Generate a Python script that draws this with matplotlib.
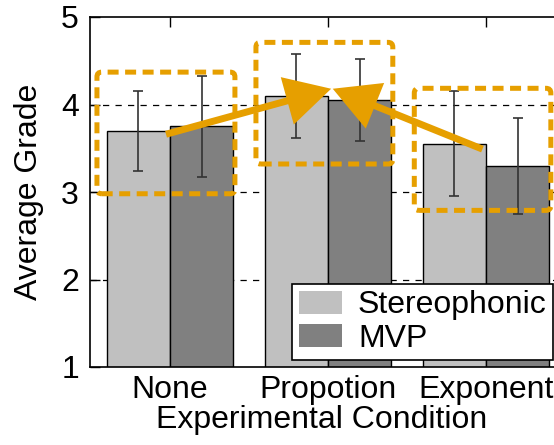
import matplotlib
matplotlib.use("Agg")
import matplotlib.pyplot as plt
import numpy as np
from matplotlib.patches import FancyBboxPatch, FancyArrowPatch

plt.rcParams['font.family'] = ['Liberation Sans', 'DejaVu Sans']

categories = ["None", "Propotion", "Exponent"]
series_names = ["Stereophonic", "MVP"]
stereo_mean = [3.70, 4.10, 3.55]
stereo_err = [0.46, 0.48, 0.60]
mvp_mean = [3.75, 4.05, 3.30]
mvp_err = [0.58, 0.47, 0.55]
yticks = [1, 2, 3, 4, 5]
grid_levels = [2, 3, 4]

# highlight boxes: (x0, x1, y0, y1) in data units
boxes = [(-0.462, 0.411, 2.98, 4.37),
         (0.544, 1.41, 3.32, 4.71),
         (1.546, 2.41, 2.79, 4.185)]
# arrows: (x_start, y_start, x_end, y_end)
arrows = [(-0.025, 3.66, 1.02, 4.18),
          (1.977, 3.49, 1.03, 4.18)]

orange = "#E69F00"
FS = 23

fig = plt.figure(figsize=(5.54, 4.45), dpi=100)
ax = fig.add_axes([90/554, 78/445, 1 - 90/554, 350/445])

x = np.arange(len(categories))
w = 0.4
for lv in grid_levels:
    ax.axhline(lv, color='black', lw=0.9, ls=(0, (5, 5)), zorder=0.5)

ax.bar(x - w/2, stereo_mean, w, color='#C0C0C0', edgecolor='black', lw=1,
       label=series_names[0], zorder=1)
ax.bar(x + w/2, mvp_mean, w, color='#808080', edgecolor='black', lw=1,
       label=series_names[1], zorder=1)
ax.errorbar(x - w/2, stereo_mean, yerr=stereo_err, fmt='none', ecolor='#333333',
            elinewidth=1.2, capsize=3.6, capthick=1.2, zorder=2)
ax.errorbar(x + w/2, mvp_mean, yerr=mvp_err, fmt='none', ecolor='#333333',
            elinewidth=1.2, capsize=3.6, capthick=1.2, zorder=2)

aspect = 158 / 87.5
for (x0, x1, y0, y1) in boxes:
    p = FancyBboxPatch((x0, y0), x1 - x0, y1 - y0,
                       boxstyle="round,pad=0,rounding_size=0.03",
                       mutation_aspect=aspect, fill=False, edgecolor=orange,
                       lw=3.6, ls=(0, (2.2, 1.3)), zorder=3)
    ax.add_patch(p)

for (xs, ys, xe, ye) in arrows:
    a = FancyArrowPatch((xs, ys), (xe, ye),
                        arrowstyle='-|>,head_length=2.5,head_width=1.35',
                        mutation_scale=10, lw=5, color=orange,
                        shrinkA=0, shrinkB=0, capstyle='butt', joinstyle='miter',
                        zorder=4)
    ax.add_patch(a)

ax.set_xlim(-0.506, 2.43)
ax.set_ylim(1, 5)
ax.set_yticks(yticks)
ax.set_xticks(x)
ax.set_xticklabels(categories)
ax.tick_params(axis='both', labelsize=FS, direction='in', length=7, width=1)
ax.tick_params(axis='x', top=True, bottom=False, pad=6)
ax.tick_params(axis='y', pad=8)
for s in ax.spines.values():
    s.set_linewidth(1.2)
ax.spines['right'].set_visible(False)

ax.set_xlabel("Experimental Condition", fontsize=FS, labelpad=0)
ax.set_ylabel("Average Grade", fontsize=FS, labelpad=12)

leg = ax.legend(loc='lower right', bbox_to_anchor=(0.998, 0.02), fontsize=FS,
                frameon=True, fancybox=False, edgecolor='black', framealpha=1,
                handlelength=1.35, handleheight=0.75, handletextpad=0.5,
                borderpad=0.2, labelspacing=0.1, borderaxespad=0)
leg.get_frame().set_linewidth(1.2)
for h in leg.legend_handles:
    h.set_edgecolor('none')
leg.set_zorder(10)

fig.savefig("out.png", dpi=100)
